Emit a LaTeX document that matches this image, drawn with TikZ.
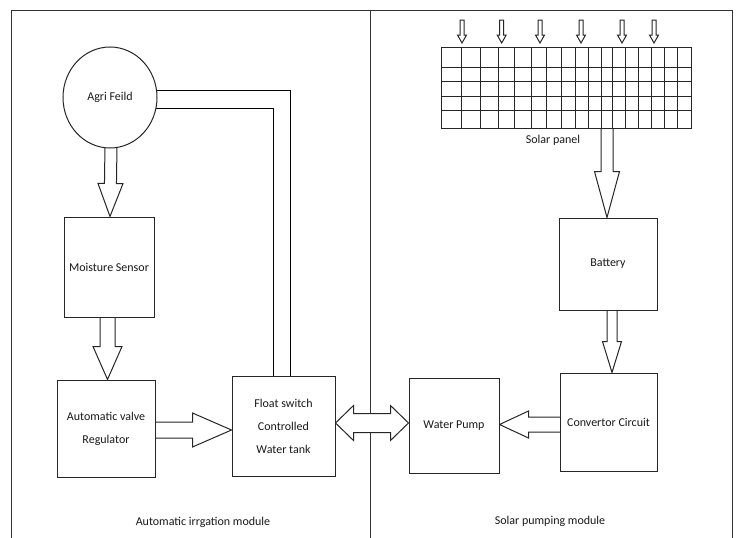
\documentclass[tikz,border=0pt]{standalone}
\usepackage{fontspec}
\setmainfont{Carlito}
\usetikzlibrary{calc,backgrounds,shapes.geometric}

% block arrow: #1 tail, #2 tip, #3 shaft half width, #4 head half width, #5 head length
\newcommand\blockarrow[5]{%
  \coordinate (ba-a) at (#1);
  \coordinate (ba-b) at (#2);
  \coordinate (ba-h) at ($(ba-b)!#5!(ba-a)$);
  \draw[blk] ($(ba-a)!#3!90:(ba-b)$) -- ($(ba-h)!#3!-90:(ba-a)$)
    -- ($(ba-h)!#4!-90:(ba-a)$) -- (ba-b) -- ($(ba-h)!#4!90:(ba-a)$)
    -- ($(ba-h)!#3!90:(ba-a)$) -- ($(ba-a)!#3!-90:(ba-b)$) -- cycle;
}
% double-headed block arrow: #1 tip, #2 tip, #3 shaft half width, #4 head half width, #5 head length
\newcommand\dblockarrow[5]{%
  \coordinate (da-a) at (#1);
  \coordinate (da-b) at (#2);
  \coordinate (da-h1) at ($(da-a)!#5!(da-b)$);
  \coordinate (da-h2) at ($(da-b)!#5!(da-a)$);
  \draw[blk] (da-a) -- ($(da-h1)!#4!90:(da-b)$) -- ($(da-h1)!#3!90:(da-b)$)
    -- ($(da-h2)!#3!-90:(da-a)$) -- ($(da-h2)!#4!-90:(da-a)$) -- (da-b)
    -- ($(da-h2)!#4!90:(da-a)$) -- ($(da-h2)!#3!90:(da-a)$)
    -- ($(da-h1)!#3!-90:(da-b)$) -- ($(da-h1)!#4!-90:(da-b)$) -- cycle;
}

\begin{document}
\begin{tikzpicture}[x=1pt,y=-1pt,
    line width=1pt, draw=black!85,
    every node/.style={font=\fontsize{12}{23}\selectfont, text=black!90},
    blk/.style={draw=black!85, fill=white, line width=1pt, line join=miter},
    unit/.style={draw=black!85, fill=white, inner sep=0pt, align=center, line width=1pt},
    frame/.style={draw=black!80, line width=1pt}]
\useasboundingbox (0,0) rectangle (737,538);

% units of the irrigation module
\node[unit, ellipse, minimum width=94pt, minimum height=101pt] (ag) at (110,97.5) {Agri Feild};
\node[unit, minimum width=90pt, minimum height=100pt] (ms) at (109,267) {Moisture Sensor};
\node[unit, minimum width=98pt, minimum height=97pt] (vr) at (106,428.5) {Automatic valve\\Regulator};
\node[unit, minimum width=103pt, minimum height=100pt] (tk) at (283.5,426) {Float switch\\Controlled\\Water tank};

% units of the solar pumping module
\node[unit, minimum width=250pt, minimum height=81pt] (sp) at (566,87.8) {};
\node[unit, minimum width=98pt, minimum height=92pt] (bt) at (608,264) {Battery};
\node[unit, minimum width=97pt, minimum height=98pt] (cc) at (608.5,422) {Convertor Circuit};
\node[unit, minimum width=90pt, minimum height=95pt] (wp) at (454,425.5) {Water Pump};

% cells of the solar panel
\foreach \x in {461.7,480,498.3,514.5,531.7,546.7,561.7,575,588.3,601,612.7,625,638.3,651,664,677.7}
  \draw[line width=0.9pt] (\x,47.3) -- (\x,128.3);
\foreach \y in {67.3,81.7,96,110}
  \draw[line width=0.9pt] (441,\y) -- (691,\y);

% labels
\node (spl) at (553,140) {Solar panel};
\node (lm1) at (203,522) {Automatic irrgation module};
\node (lm2) at (550,521) {Solar pumping module};

% arrow end points
\coordinate (agt) at ($(ag.south)+(1,-4)$);
\coordinate (msn) at ($(ms.north)+(1,0)$);
\coordinate (mst) at ($(ms.south)+(-1.5,-2)$);
\coordinate (vrn) at (mst |- vr.north);
\coordinate (vrt) at ($(vr.east)+(-2,1.5)$);
\coordinate (tkw) at (vrt -| tk.west);
\coordinate (tke) at ($(tk.east)+(0,-3)$);
\coordinate (wpw) at (tke -| wp.west);
\coordinate (cct) at ($(cc.west)+(2,2.5)$);
\coordinate (wpe) at (cct -| wp.east);
\coordinate (spt) at ($(sp.south)+(41,-2)$);
\coordinate (btn) at (spt |- bt.north);
\coordinate (btt) at ($(bt.south)+(4,-2)$);
\coordinate (ccn) at (btt |- cc.north);

\begin{scope}[on background layer]
  % outer frame and module divider
  \draw[frame] (11,545) -- (11,10) -- (732,10) -- (732,545);
  \draw[frame] (370,10) -- (370,545);

  % water pipe from the field to the tank
  \draw ([shift={(-4pt,7.5pt)}]ag.east) -| ($(tk.north)+(6.5,0)$);
  \draw ([shift={(-4pt,-10.5pt)}]ag.east) -| ($(tk.north)+(-10.5,0)$);

  % sunlight falling on the panel
  \foreach \x in {462,501.7,540,581,622,654}
    {\blockarrow{\x,20}{\x,43}{2pt}{4.5pt}{8pt}}

  % signal and power flow
  \blockarrow{agt}{msn}{6pt}{12.5pt}{33pt}
  \blockarrow{mst}{vrn}{7.5pt}{14.5pt}{33pt}
  \blockarrow{vrt}{tkw}{8pt}{17pt}{39pt}
  \dblockarrow{tke}{wpw}{9.5pt}{17.5pt}{18pt}
  \blockarrow{cct}{wpe}{7.5pt}{13.5pt}{29pt}
  \blockarrow{spt}{btn}{6pt}{12.5pt}{46pt}
  \blockarrow{btt}{ccn}{5pt}{9.5pt}{31pt}
\end{scope}
\end{tikzpicture}
\end{document}
